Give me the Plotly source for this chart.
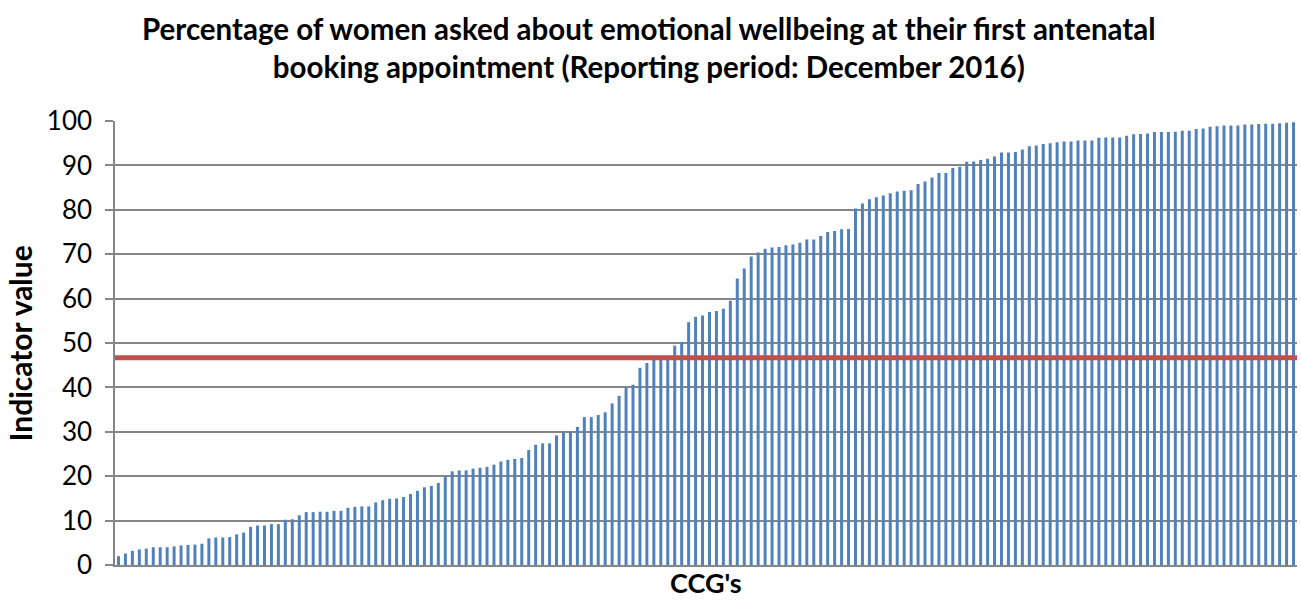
import plotly.graph_objects as go

values = [
    2.0, 2.6, 3.2, 3.5, 3.7, 4.0, 4.0, 4.0, 4.2, 4.4,
    4.5, 4.6, 4.8, 6.0, 6.2, 6.2, 6.3, 6.9, 7.3, 8.6,
    8.9, 8.9, 9.2, 9.2, 10.2, 10.3, 11.2, 11.9, 11.9, 12.0,
    12.0, 12.2, 12.2, 12.9, 13.1, 13.2, 13.2, 14.1, 14.6, 14.9,
    15.0, 15.3, 16.0, 16.7, 17.5, 17.8, 18.5, 19.9, 21.1, 21.3,
    21.3, 21.7, 21.9, 22.1, 22.6, 23.3, 23.7, 23.9, 24.1, 25.9,
    27.1, 27.4, 27.4, 29.2, 29.8, 30.0, 31.1, 33.3, 33.3, 33.8,
    34.4, 36.4, 38.1, 40.0, 40.6, 44.4, 45.5, 46.2, 46.5, 46.8,
    49.4, 50.2, 54.7, 55.9, 56.2, 57.0, 57.2, 57.7, 59.5, 64.5,
    66.8, 69.5, 70.4, 71.2, 71.5, 71.6, 72.0, 72.2, 72.6, 73.3,
    73.3, 74.1, 75.0, 75.2, 75.6, 75.7, 80.3, 81.4, 82.4, 82.8,
    83.2, 83.7, 84.1, 84.3, 84.4, 85.8, 86.4, 87.3, 88.3, 88.3,
    89.4, 89.7, 90.8, 90.9, 91.2, 91.5, 92.0, 92.9, 92.9, 93.0,
    93.6, 94.3, 94.5, 94.8, 95.0, 95.2, 95.4, 95.4, 95.6, 95.6,
    95.6, 96.2, 96.3, 96.3, 96.3, 96.7, 97.0, 97.1, 97.2, 97.5,
    97.5, 97.5, 97.6, 97.8, 97.8, 98.2, 98.3, 98.7, 98.8, 99.0,
    99.0, 99.0, 99.2, 99.2, 99.3, 99.4, 99.4, 99.5, 99.6, 99.7,
]
ccgs = list(range(1, len(values) + 1))
national_value = 46.7

title_line1 = "Percentage of women asked about emotional wellbeing at their first antenatal"
title_line2 = "booking appointment (Reporting period: December 2016)"
y_title = "Indicator value"
x_title = "CCG's"
y_ticks = [0, 10, 20, 30, 40, 50, 60, 70, 80, 90, 100]

FONT = "Lato"
GRID = "#868686"

fig = go.Figure()
fig.add_trace(go.Bar(x=ccgs, y=values, marker=dict(color="#4F81BD", line=dict(width=0)),
                     showlegend=False))
fig.add_shape(type="line", xref="paper", x0=0, x1=1, yref="y", y0=national_value, y1=national_value,
              line=dict(color="#C0504D", width=5), layer="above")

fig.update_layout(
    width=1301, height=600,
    paper_bgcolor="white", plot_bgcolor="white",
    margin=dict(l=115, r=4, t=121, b=35, autoexpand=False),
    bargap=0.57,
    font=dict(family=FONT, color="black"),
    xaxis=dict(range=[0.5, len(values) + 0.5], showticklabels=False, ticks="", automargin=False,
               showgrid=False, showline=True, linecolor=GRID, linewidth=1.5, zeroline=False),
    yaxis=dict(range=[0, 100], tickvals=y_ticks, ticktext=[str(v) for v in y_ticks],
               automargin=False,
               showgrid=True, gridcolor=GRID, gridwidth=1.5,
               showline=True, linecolor=GRID, linewidth=1.5,
               ticks="outside", ticklen=8, tickcolor=GRID, tickwidth=1.5,
               ticklabelstandoff=8,
               tickfont=dict(family=FONT, size=26, color="black"), zeroline=False),
    annotations=[
        dict(text="<b>" + title_line1 + "</b><br><b>" + title_line2 + "</b>",
             xref="paper", yref="paper", x=0.452, y=1.166,
             xanchor="center", yanchor="middle", align="center", showarrow=False,
             font=dict(family=FONT, size=29.5, color="black")),
        dict(text="<b>" + y_title + "</b>", xref="paper", yref="paper", x=-0.08, y=0.5,
             xanchor="center", yanchor="middle", textangle=-90, showarrow=False,
             font=dict(family=FONT, size=30, color="black")),
        dict(text="<b>" + x_title + "</b>", xref="paper", yref="paper", x=0.5, y=-0.039,
             xanchor="center", yanchor="middle", showarrow=False,
             font=dict(family=FONT, size=27, color="black")),
    ],
)

fig.write_html("out.html", config={"displayModeBar": False},
               post_script="document.body.style.margin='0';document.body.style.overflow='hidden';")
